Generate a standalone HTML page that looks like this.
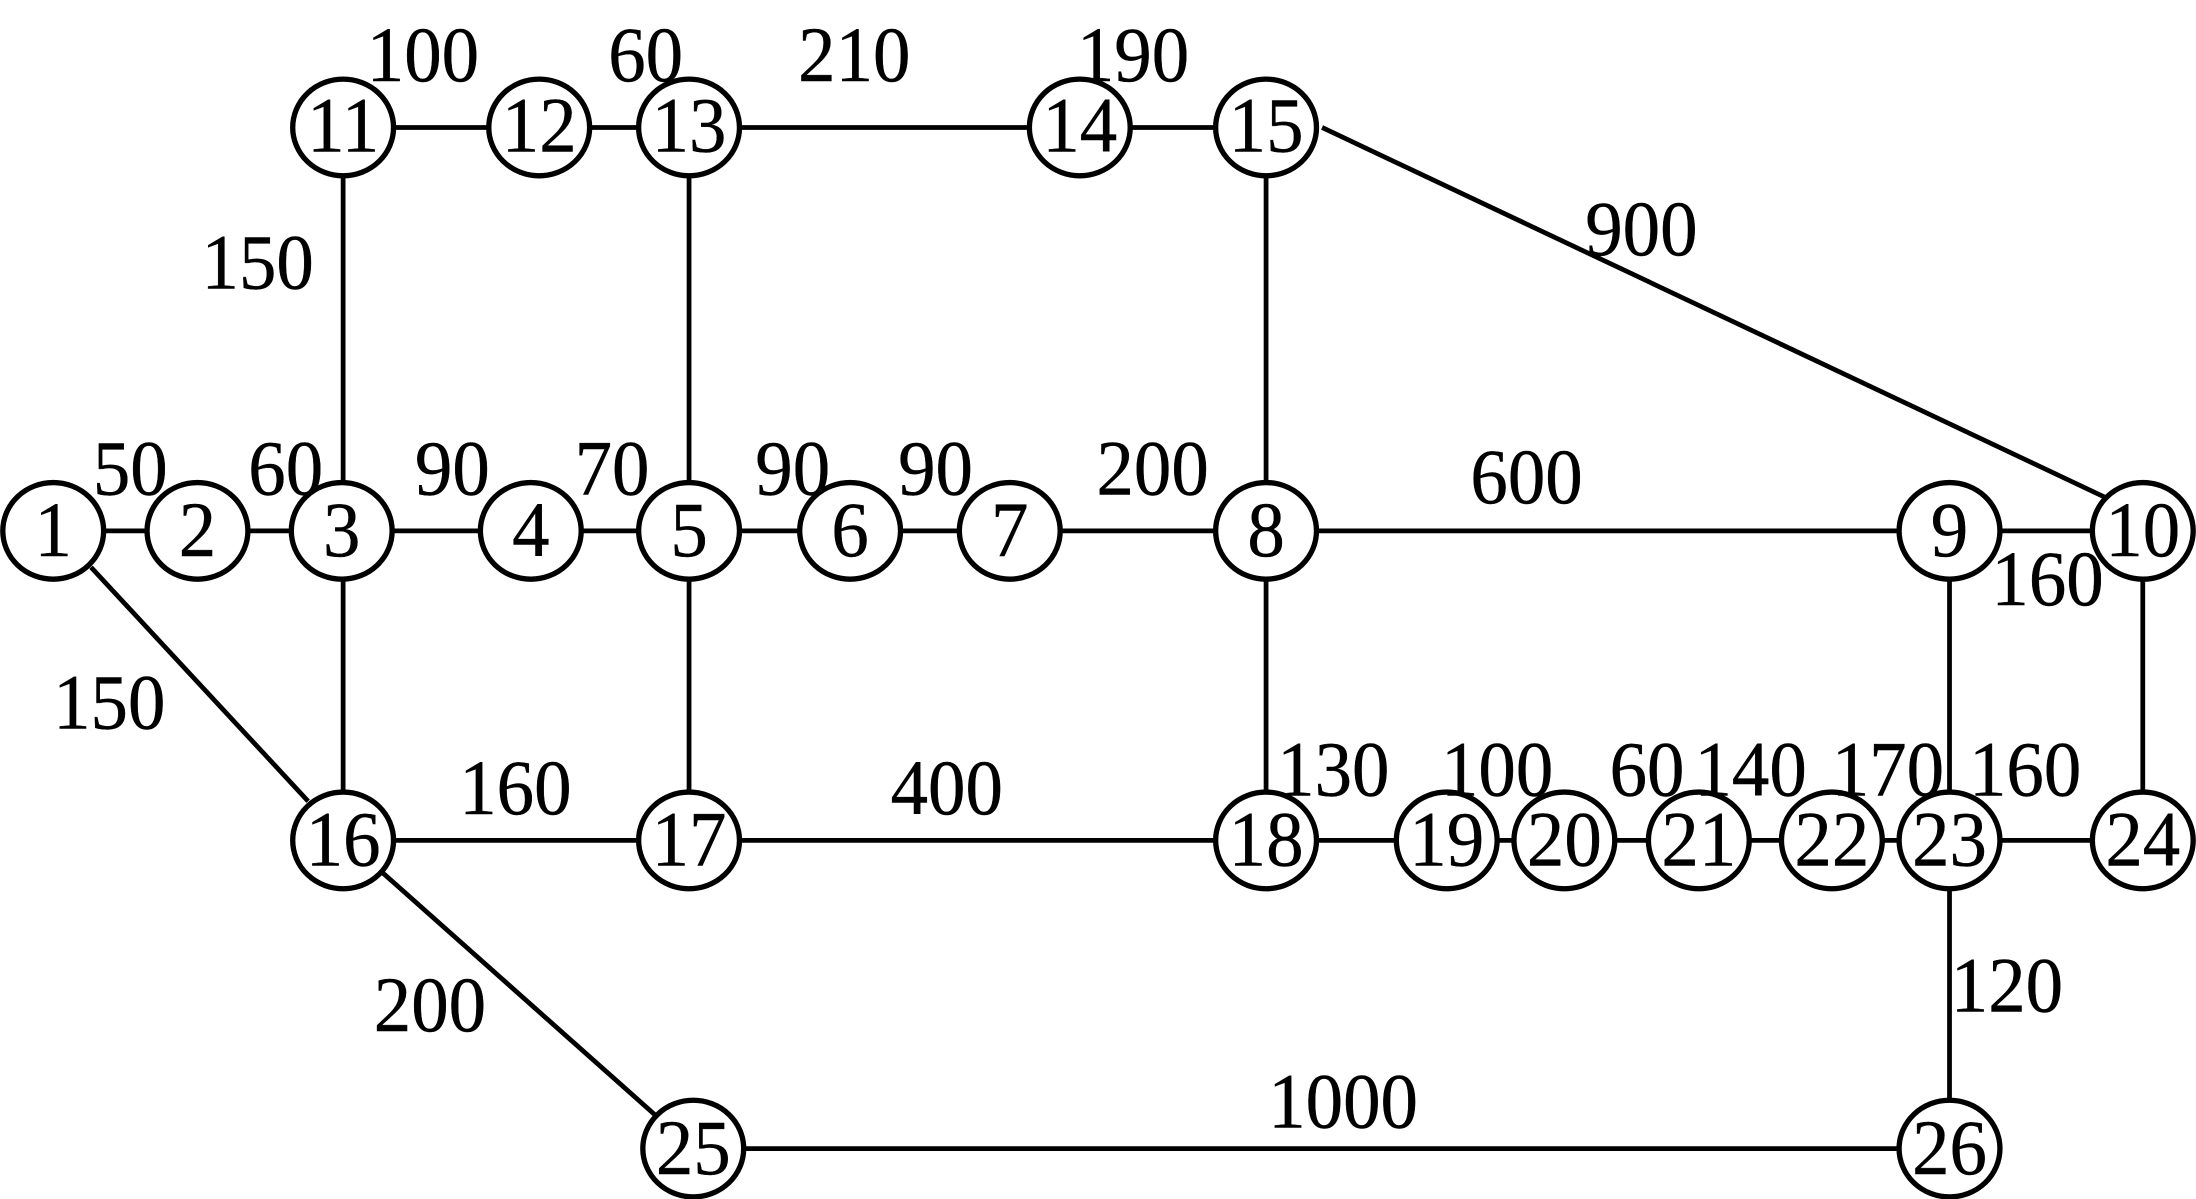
<!DOCTYPE html>
<html><head><meta charset="utf-8"><style>
html,body{margin:0;padding:0;background:#fff;width:2196px;height:1199px;overflow:hidden}
svg{display:block}
text{font-family:"Liberation Serif",serif;fill:#000;stroke:#000;stroke-width:.3;text-anchor:middle;font-size:56px}
line{stroke:#000;stroke-width:3.4}
ellipse{fill:#fff;stroke:#000;stroke-width:3.8}
</style></head><body>
<svg width="2196" height="1199" viewBox="0 0 1568 856" preserveAspectRatio="none" xmlns="http://www.w3.org/2000/svg">
<rect width="1568" height="856" fill="#fff"/>
<line x1="38" y1="379" x2="1530" y2="379"/>
<line x1="245" y1="91" x2="904" y2="91"/>
<line x1="245" y1="600" x2="1530" y2="600"/>
<line x1="495" y1="820" x2="1392" y2="820"/>
<line x1="245" y1="91" x2="245" y2="600"/>
<line x1="492" y1="91" x2="492" y2="600"/>
<line x1="904" y1="91" x2="904" y2="600"/>
<line x1="1392" y1="379" x2="1392" y2="820"/>
<line x1="1530" y1="379" x2="1530" y2="600"/>
<line x1="65" y1="405" x2="220" y2="572"/>
<line x1="272" y1="622" x2="470" y2="798"/>
<line x1="944" y1="91" x2="1503" y2="355"/>
<ellipse cx="38" cy="379" rx="36" ry="34.5"/><ellipse cx="141" cy="379" rx="36" ry="34.5"/><ellipse cx="244" cy="379" rx="36" ry="34.5"/><ellipse cx="379" cy="379" rx="36" ry="34.5"/><ellipse cx="492" cy="379" rx="36" ry="34.5"/><ellipse cx="607" cy="379" rx="36" ry="34.5"/><ellipse cx="721" cy="379" rx="36" ry="34.5"/><ellipse cx="904" cy="379" rx="36" ry="34.5"/><ellipse cx="1392" cy="379" rx="36" ry="34.5"/><ellipse cx="1530" cy="379" rx="36" ry="34.5"/>
<ellipse cx="245" cy="91" rx="36" ry="34.5"/><ellipse cx="385" cy="91" rx="36" ry="34.5"/><ellipse cx="492" cy="91" rx="36" ry="34.5"/><ellipse cx="771" cy="91" rx="36" ry="34.5"/><ellipse cx="904" cy="91" rx="36" ry="34.5"/>
<ellipse cx="245" cy="600" rx="36" ry="34.5"/><ellipse cx="492" cy="600" rx="36" ry="34.5"/><ellipse cx="904" cy="600" rx="36" ry="34.5"/><ellipse cx="1033" cy="600" rx="36" ry="34.5"/><ellipse cx="1117" cy="600" rx="36" ry="34.5"/><ellipse cx="1213" cy="600" rx="36" ry="34.5"/><ellipse cx="1308" cy="600" rx="36" ry="34.5"/><ellipse cx="1392" cy="600" rx="36" ry="34.5"/><ellipse cx="1530" cy="600" rx="36" ry="34.5"/>
<ellipse cx="495" cy="820" rx="36" ry="34.5"/><ellipse cx="1392" cy="820" rx="36" ry="34.5"/>
<text transform="translate(38,397) scale(.955,1)">1</text><text transform="translate(141,397) scale(.955,1)">2</text><text transform="translate(244,397) scale(.955,1)">3</text><text transform="translate(379,397) scale(.955,1)">4</text><text transform="translate(492,397) scale(.955,1)">5</text><text transform="translate(607,397) scale(.955,1)">6</text><text transform="translate(721,397) scale(.955,1)">7</text><text transform="translate(904,397) scale(.955,1)">8</text><text transform="translate(1392,397) scale(.955,1)">9</text><text transform="translate(1530,397) scale(.955,1)">10</text>
<text transform="translate(245,108) scale(.955,1)">11</text><text transform="translate(385,108) scale(.955,1)">12</text><text transform="translate(492,108) scale(.955,1)">13</text><text transform="translate(771,108) scale(.955,1)">14</text><text transform="translate(904,108) scale(.955,1)">15</text>
<text transform="translate(245,618) scale(.955,1)">16</text><text transform="translate(492,618) scale(.955,1)">17</text><text transform="translate(904,618) scale(.955,1)">18</text><text transform="translate(1033,618) scale(.955,1)">19</text><text transform="translate(1117,618) scale(.955,1)">20</text><text transform="translate(1213,618) scale(.955,1)">21</text><text transform="translate(1308,618) scale(.955,1)">22</text><text transform="translate(1392,618) scale(.955,1)">23</text><text transform="translate(1530,618) scale(.955,1)">24</text>
<text transform="translate(495,838) scale(.955,1)">25</text><text transform="translate(1392,838) scale(.955,1)">26</text>
<text transform="translate(302,58) scale(.955,1)">100</text><text transform="translate(461,58) scale(.955,1)">60</text><text transform="translate(610,58) scale(.955,1)">210</text><text transform="translate(809,58) scale(.955,1)">190</text>
<text transform="translate(184,206) scale(.955,1)">150</text><text transform="translate(1172,182) scale(.955,1)">900</text>
<text transform="translate(93,353) scale(.955,1)">50</text><text transform="translate(204,353) scale(.955,1)">60</text><text transform="translate(323,353) scale(.955,1)">90</text><text transform="translate(437,353) scale(.955,1)">70</text><text transform="translate(566,353) scale(.955,1)">90</text><text transform="translate(668,353) scale(.955,1)">90</text><text transform="translate(823,353) scale(.955,1)">200</text>
<text transform="translate(1090,359) scale(.955,1)">600</text><text transform="translate(1462,432) scale(.955,1)">160</text><text transform="translate(78,520) scale(.955,1)">150</text>
<text transform="translate(952,568) scale(.955,1)">130</text><text transform="translate(1069,568) scale(.955,1)">100</text><text transform="translate(1176,568) scale(.955,1)">60</text><text transform="translate(1250,568) scale(.955,1)">140</text><text transform="translate(1348,568) scale(.955,1)">170</text><text transform="translate(1446,568) scale(.955,1)">160</text>
<text transform="translate(368,581) scale(.955,1)">160</text><text transform="translate(676,581) scale(.955,1)">400</text><text transform="translate(307,736) scale(.955,1)">200</text><text transform="translate(959,805) scale(.955,1)">1000</text><text transform="translate(1433,722) scale(.955,1)">120</text>
</svg>
</body></html>
